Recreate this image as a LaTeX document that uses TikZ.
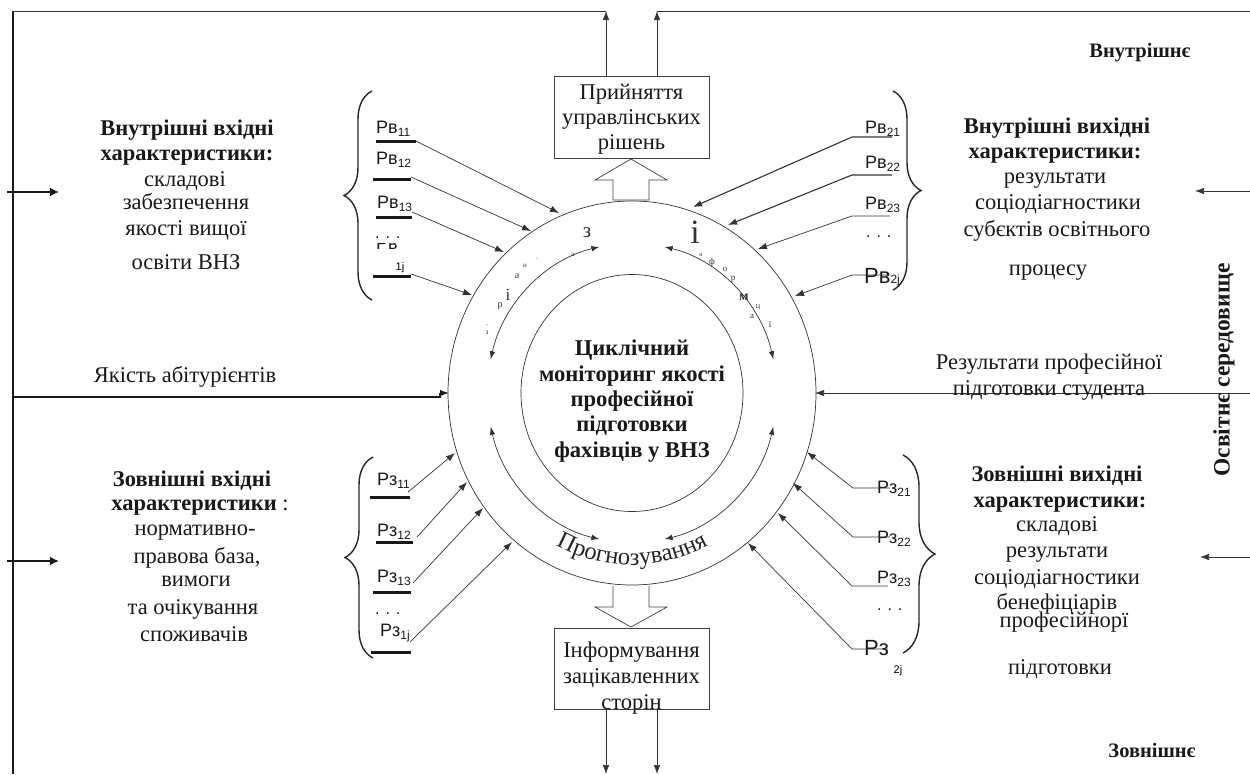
\documentclass[tikz,border=0pt]{standalone}
\usepackage{fontspec}
\setmainfont{Liberation Serif}
\newfontfamily\arialf{Liberation Sans}
\usetikzlibrary{arrows.meta,decorations.text,decorations.pathreplacing}
\newcommand{\fsz}[1]{\fontsize{#1}{#1}\selectfont}
\newcommand{\plab}[2]{{\arialf\fsz{18}#1\raisebox{-3pt}{\fsz{12}#2}}}
\begin{document}
\begin{tikzpicture}[x=1pt,y=-1pt,
  txt/.style={inner sep=0pt,anchor=base,font=\fsz{22.5},text=black!90},
  btxt/.style={inner sep=0pt,anchor=base,font=\fsz{22.5}\bfseries,text=black!90},
  ctxt/.style={inner sep=0pt,anchor=base,font=\fsz{22.6}\bfseries,text=black!90},
  plabel/.style={inner sep=0pt,anchor=base west,text=black!90},
  arcl/.style={inner sep=0pt,anchor=center,text=black!80},
  thinline/.style={draw=black!80,line width=0.7pt},
  thickline/.style={draw=black!90,line width=2.6pt},
  ul/.style={draw=black!90,line width=3pt},
  tip/.style={-{Latex[length=9pt,width=6.5pt]}},
  dtip/.style={{Latex[length=8pt,width=5.5pt]}-{Latex[length=8pt,width=5.5pt]}},
  boxst/.style={draw=black!75,line width=0.7pt,fill=white},
  bracest/.style={draw=black!85,line width=1.4pt,decorate,decoration={brace,amplitude=28pt}},
]
\useasboundingbox (0,0) rectangle (1250,774);

% ---------- frame ----------
\coordinate (ctr) at (632,393);
\coordinate (tl) at (12,11);
\coordinate (tr) at (1250,11);
\coordinate (lvt) at (13,12);
\coordinate (lvb) at (13,774);
\draw[thickline] (lvt) -- (lvb);

% ---------- circles ----------
\draw[thinline] (ctr) ellipse[x radius=184, y radius=192];
\draw[thinline] (ctr) ellipse[x radius=111, y radius=118.5];

% ---------- boxes ----------
\node[boxst,minimum width=155pt,minimum height=82pt,inner sep=0pt] (topbox) at (631.5,117) {};
\node[boxst,minimum width=155pt,minimum height=81pt,inner sep=0pt] (botbox) at (631.5,668.5) {};
\node[txt] (tb1) at (631.5,99) {Прийняття};
\node[txt] (tb2) at (631.5,124) {управлінських};
\node[txt] (tb3) at (631.5,149) {рішень};
\node[txt] (bb1) at (631.5,657) {Інформування};
\node[txt] (bb2) at (631.5,683) {зацікавленних};
\node[txt] (bb3) at (631.5,709) {сторін};
\draw[draw=black!75,line width=0.7pt] (botbox.south west) -- (botbox.south east);

% hollow arrows
\draw[boxst] (613,200) -- (613,180) -- (595,180) -- (631,159) -- (667,180) -- (649,180) -- (649,200) -- cycle;
\draw[boxst] (613,586) -- (613,607) -- (595,607) -- (631,627) -- (667,607) -- (649,607) -- (649,586);

% arrows from boxes
\coordinate (ua1) at (606,76);  \coordinate (ua1e) at (606,11);
\coordinate (ua2) at (657,76);  \coordinate (ua2e) at (657,11);
\draw[thinline,tip] (ua1) -- (ua1e);
\draw[thinline,tip] (ua2) -- (ua2e);
\draw[thinline] (ua1e) -- (tl);
\draw[thinline] (ua2e) -- (tr);
\coordinate (da1) at (606,709); \coordinate (da1e) at (606,774);
\coordinate (da2) at (657,709); \coordinate (da2e) at (657,774);
\draw[thinline,tip] (da1) -- (da1e);
\draw[thinline,tip] (da2) -- (da2e);

% ---------- left side arrows ----------
\coordinate (la1s) at (7,192);  \coordinate (la1e) at (59,192);
\coordinate (la2s) at (7,561);  \coordinate (la2e) at (59,561);
\draw[thickline,-{Latex[length=9pt,width=9pt]}] (la1s) -- (la1e);
\draw[thickline,-{Latex[length=9pt,width=9pt]}] (la2s) -- (la2e);
\coordinate (abs) at (13,397); \coordinate (abt) at (449,393);
\draw[thickline] (abs) -- (440,397) -- (440,393);
\draw[draw=black!90,line width=1.2pt,tip] (440,393) -- (abt);

% ---------- right side arrows ----------
\coordinate (ra1s) at (1250,191); \coordinate (ra1e) at (1195,191);
\coordinate (ra2s) at (1250,557); \coordinate (ra2e) at (1200,557);
\coordinate (rs) at (1250,393);   \coordinate (rt) at (815,393);
\draw[thinline,tip] (ra1s) -- (ra1e);
\draw[thinline,tip] (ra2s) -- (ra2e);
\draw[thinline,tip] (rs) -- (rt);

% ---------- braces ----------
\draw[bracest] (372,300) -- (372,91);
\draw[bracest] (373,658) -- (373,457);
\draw[bracest] (893,91) -- (893,290);
\draw[bracest,decoration={brace,amplitude=32pt}] (903,455) -- (903,653);

% ---------- labels: internal inputs ----------
\node[plabel] (pv11) at (376,133) {\plab{Рв}{11}};
\node[plabel] (pv12) at (376,164) {\plab{Рв}{12}};
\node[plabel] (pv13) at (377,208) {\plab{Рв}{13}};
\node[plabel] (pvd) at (375,238) {\arialf\fsz{16}. . .};
\begin{scope}
\clip (370,243.6) rectangle (420,252);
\node[plabel] (pv1j) at (376,249.5) {\arialf\fsz{18}Рв};
\end{scope}
\node[inner sep=0pt,anchor=base] (pv1jsub) at (400,270) {\arialf\fsz{11}1j};
\coordinate (a1s) at (416,141); \coordinate (a1t) at (559,213);
\coordinate (a2s) at (411,177); \coordinate (a2t) at (531,231);
\coordinate (a3s) at (412,212); \coordinate (a3t) at (504,252);
\coordinate (a4s) at (411,274); \coordinate (a4t) at (472,295);
\draw[ul] (376,141) -- (a1s);
\draw[ul] (373,179) -- (411,179);
\draw[ul] (376,217) -- (412,217);
\draw[ul] (373,276) -- (411,276);
\draw[thinline,tip] (a1s) -- (a1t);
\draw[thinline,tip] (a2s) -- (a2t);
\draw[thinline,tip] (a3s) -- (a3t);
\draw[thinline,tip] (a4s) -- (a4t);

% ---------- labels: internal outputs ----------
\node[plabel] (pv21) at (865,133) {\plab{Рв}{21}};
\node[plabel] (pv22) at (865,168) {\plab{Рв}{22}};
\node[plabel] (pv23) at (865,209) {\plab{Рв}{23}};
\node[plabel] (pv2d) at (866,237) {\arialf\fsz{16}. . .};
\node[plabel] (pv2j) at (864,283) {\arialf\fsz{22}Рв\fsz{12}2j};
\coordinate (b1s) at (892,137); \coordinate (b1m) at (852,137); \coordinate (b1t) at (693,207);
\coordinate (b2s) at (892,175); \coordinate (b2m) at (852,175); \coordinate (b2t) at (728,225);
\coordinate (b3s) at (890,216); \coordinate (b3m) at (852,216); \coordinate (b3t) at (758,249);
\coordinate (b4s) at (890,275); \coordinate (b4m) at (852,275); \coordinate (b4t) at (795,296);
\draw[thinline,line width=1.1pt,tip] (b1s) -- (b1m) -- (b1t);
\draw[thinline,line width=1.1pt,tip] (b2s) -- (b2m) -- (b2t);
\draw[thinline,tip] (b3s) -- (b3m) -- (b3t);
\draw[thinline,tip] (b4s) -- (b4m) -- (b4t);

% ---------- labels: external inputs ----------
\node[plabel] (pz11) at (377,485) {\plab{Рз}{11}};
\node[plabel] (pz12) at (377,536) {\plab{Рз}{12}};
\node[plabel] (pz13) at (377,582) {\plab{Рз}{13}};
\node[plabel] (pzd) at (375,614) {\arialf\fsz{16}. . .};
\node[plabel] (pz1j) at (380,636) {\plab{Рз}{1j}};
\draw[ul] (370,497) -- (410,497);
\draw[ul] (376,542) -- (413,542);
\draw[ul] (373,592) -- (411,592);
\draw[ul] (371,652) -- (411,652);
\coordinate (c1s) at (408,492); \coordinate (c1t) at (455,453);
\coordinate (c2s) at (417,537); \coordinate (c2t) at (467,482);
\coordinate (c3s) at (413,583); \coordinate (c3t) at (483,508);
\coordinate (c4s) at (410,642); \coordinate (c4t) at (512,542);
\draw[thinline,tip] (c1s) -- (c1t);
\draw[thinline,tip] (c2s) -- (c2t);
\draw[thinline,tip] (c3s) -- (c3t);
\draw[thinline,tip] (c4s) -- (c4t);

% ---------- labels: external outputs ----------
\node[plabel] (pz21) at (877,493) {\plab{Рз}{21}};
\node[plabel] (pz22) at (877,543) {\plab{Рз}{22}};
\node[plabel] (pz23) at (877,583) {\plab{Рз}{23}};
\node[plabel] (pz2d) at (877,610) {\arialf\fsz{16}. . .};
\node[plabel] (pz2j) at (864,655) {\arialf\fsz{22}Рз};
\node[inner sep=0pt,anchor=base] (pz2jsub) at (898,673) {\arialf\fsz{11}2j};
\coordinate (d1s) at (890,488); \coordinate (d1m) at (853,488); \coordinate (d1t) at (807,452);
\coordinate (d2s) at (890,537); \coordinate (d2m) at (853,537); \coordinate (d2t) at (793,483);
\coordinate (d3s) at (888,586); \coordinate (d3m) at (852,586); \coordinate (d3t) at (778,513);
\coordinate (d4s) at (888,649); \coordinate (d4m) at (852,649); \coordinate (d4t) at (748,543);
\draw[thinline,tip] (d1s) -- (d1m) -- (d1t);
\draw[thinline,tip] (d2s) -- (d2m) -- (d2t);
\draw[thinline,tip] (d3s) -- (d3m) -- (d3t);
\draw[thinline,tip] (d4s) -- (d4m) -- (d4t);

% ---------- text blocks ----------
\node[btxt] (ivh1) at (187,135) {Внутрішні вхідні};
\node[btxt] (ivh2) at (187,160) {характеристики:};
\node[txt] (ivh3) at (185,186) {складові};
\node[txt] (ivh4) at (186,209) {забезпечення};
\node[txt] (ivh5) at (186,235) {якості вищої};
\node[txt] (ivh6) at (186,269) {освіти ВНЗ};

\node[txt] (abit) at (185,382) {Якість абітурієнтів};

\node[btxt] (zvh1) at (192,486) {Зовнішні вхідні};
\node[txt] (zvh2) at (200,510) {\textbf{характеристики} :};
\node[txt] (zvh3) at (195,535) {нормативно-};
\node[txt] (zvh4) at (197,563) {правова база,};
\node[txt] (zvh5) at (196,586) {вимоги};
\node[txt] (zvh6) at (193,614) {та очікування};
\node[txt] (zvh7) at (194,641) {споживачів};

\node[btxt] (ivy1) at (1057,133) {Внутрішні вихідні};
\node[btxt] (ivy2) at (1055,158) {характеристики:};
\node[txt] (ivy3) at (1055,183) {результати};
\node[txt] (ivy4) at (1058,209) {соціодіагностики};
\node[txt] (ivy5) at (1057,236) {субєктів освітнього};
\node[txt] (ivy6) at (1048,275) {процесу};

\node[btxt] (zvy1) at (1057,481) {Зовнішні вихідні};
\node[btxt] (zvy2) at (1060,507) {характеристики:};
\node[txt] (zvy3) at (1057,531) {складові};
\node[txt] (zvy4) at (1057,557) {результати};
\node[txt] (zvy5) at (1057,584) {соціодіагностики};
\node[txt] (zvy6) at (1057,609) {бенефіціарів};
\node[txt] (zvy7) at (1064,627) {професійнорї};
\node[txt] (zvy8) at (1060,674) {підготовки};

\node[txt] (rez1) at (1049,369) {Результати професійної};
\node[txt] (rez2) at (1049,395) {підготовки студента};

\node[btxt,font=\fsz{20.5}\bfseries] (vnut) at (1140,57) {Внутрішнє};
\node[btxt,font=\fsz{20.5}\bfseries] (zovn) at (1152,757) {Зовнішнє};
\node[inner sep=0pt,font=\fsz{23.5}\bfseries,text=black!90,rotate=90] (osv) at (1224,370) {Освітнє середовище};

% central text
\node[ctxt] (ct1) at (632,355) {Циклічний};
\node[ctxt] (ct2) at (632,381) {моніторинг якості};
\node[ctxt] (ct3) at (632,406) {професійної};
\node[ctxt] (ct4) at (632,431) {підготовки};
\node[ctxt] (ct5) at (632,457) {фахівців у ВНЗ};

% ---------- ring arcs ----------
\draw[thinline,dtip] ([shift={(193:145 and 150)}]ctr) arc[start angle=193,end angle=257,x radius=145,y radius=150];
\draw[thinline,dtip] ([shift={(283:145 and 150)}]ctr) arc[start angle=283,end angle=347,x radius=145,y radius=150];
\draw[thinline,dtip] ([shift={(103:145 and 150)}]ctr) arc[start angle=103,end angle=167,x radius=145,y radius=150];
\draw[thinline,dtip] ([shift={(13:145 and 150)}]ctr) arc[start angle=13,end angle=77,x radius=145,y radius=150];

\path[decorate,decoration={text along path,text align=center,
  text={|\fsz{24.5}\color{black!85}|Прогнозування}}]
  ([shift={(130:164 and 172)}]ctr) arc[start angle=130,end angle=50,x radius=164,y radius=172];

% letters along the top arcs
\node[arcl,font=\fsz{21}] (lz) at (587,233) {з};
\node[arcl,font=\fsz{7}] (la1) at (573,255) {а};
\node[arcl,font=\fsz{7}] (ldot) at (537,260) {·};
\node[arcl,font=\fsz{7}] (ln) at (525,266) {н};
\node[arcl,font=\fsz{10}] (la2) at (517,276) {а};
\node[arcl,font=\fsz{17}] (li) at (508,295) {і};
\node[arcl,font=\fsz{10}] (lr) at (500,306) {р};
\node[arcl,font=\fsz{7}] (lz2) at (487,333) {з};
\node[arcl,font=\fsz{6}] (lap) at (487,326) {'};

\node[arcl,font=\fsz{34}] (ri) at (695,232) {і};
\node[arcl,font=\fsz{6}] (rn) at (701,255) {н};
\node[arcl,font=\fsz{9}] (rf) at (712,262) {ф};
\node[arcl,font=\fsz{9}] (ro) at (725,269) {о};
\node[arcl,font=\fsz{9}] (rr) at (733,279) {р};
\node[arcl,font=\fsz{14}\bfseries] (rm) at (744,297) {м};
\node[arcl,font=\fsz{8}] (rc) at (758,307) {ц};
\node[arcl,font=\fsz{9}] (ra) at (752,316) {а};
\node[arcl,font=\fsz{9}] (rii) at (770,325) {ї};
\end{tikzpicture}
\end{document}
